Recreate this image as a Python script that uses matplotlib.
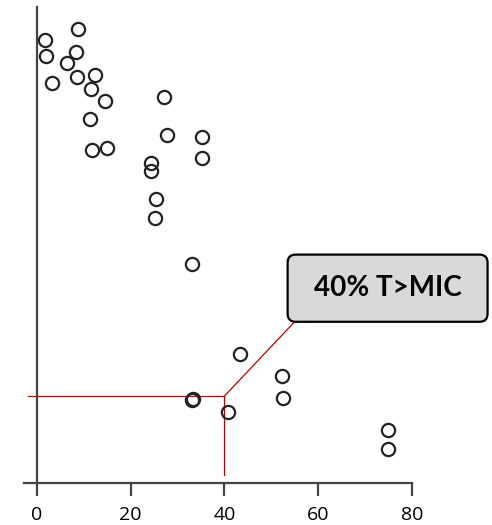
import matplotlib.pyplot as plt
from matplotlib.patches import FancyBboxPatch

# %T>MIC (x) against response (arbitrary units, y)
t_mic = [1.7, 8.7, 1.9, 8.3, 6.4, 3.1, 8.5, 12.3, 11.6, 14.4, 11.4, 11.7, 15.0,
         27.0, 27.7, 35.2, 35.2, 24.3, 24.3, 25.4, 25.2, 33.1, 43.4, 52.3, 52.5,
         33.1, 33.2, 40.7, 74.9, 74.9]
response = [93.1, 95.4, 89.7, 90.5, 88.2, 84.0, 85.2, 85.7, 82.8, 80.3, 76.4, 70.0, 70.3,
            81.0, 73.2, 72.6, 68.3, 67.2, 65.6, 59.7, 55.6, 46.0, 27.2, 22.5, 17.9,
            17.4, 17.6, 15.0, 11.1, 7.1]
x_ticks = [0, 20, 40, 60, 80]

mic_cut = 40
resp_cut = 18.3
label = "40% T>MIC"

fig = plt.figure(figsize=(4.92, 5.25), dpi=100)
ax = fig.add_axes([0.0488, 0.0794, 0.788, 0.9076])

red = '#c00000'
ax.plot([-1.9, mic_cut], [resp_cut, resp_cut], color=red, lw=0.9, clip_on=False, zorder=1)
ax.plot([mic_cut, mic_cut], [resp_cut, 1.7], color=red, lw=0.9, zorder=1)
ax.plot([mic_cut, 54.9], [resp_cut, 33.8], color=red, lw=0.9, clip_on=False, zorder=1)

ax.plot(t_mic, response, 'o', ms=9.5, mfc='none', mec='#222222', mew=1.6, zorder=3)

r = 1.7
box = FancyBboxPatch((53.5 + r, 33.9 + r), 96.2 - 53.5 - 2 * r, 48.0 - 33.9 - 2 * r,
                     boxstyle=f"round,pad={r}", fc='#d9d9d9', ec='black', lw=1.6,
                     clip_on=False, zorder=4)
ax.add_patch(box)
ax.text((53.5 + 96.2) / 2, (33.9 + 48.0) / 2, label, ha='center', va='center',
        fontsize=20, fontweight='bold', family='Lato', zorder=5)

ax.set_xlim(-2.79, 80)
ax.set_ylim(0, 100)
ax.set_xticks(x_ticks)
ax.set_yticks([])
for s in ['top', 'right']:
    ax.spines[s].set_visible(False)
ax.spines['left'].set_position(('data', 0))
for s in ['left', 'bottom']:
    ax.spines[s].set_color('#444444')
    ax.spines[s].set_linewidth(1.6)
ax.tick_params(axis='x', direction='out', length=9.5, width=1.6, color='#444444',
               labelsize=14, pad=7)
for t in ax.get_xticklabels():
    t.set_family('Open Sans')

fig.savefig('out.png', dpi=100)
